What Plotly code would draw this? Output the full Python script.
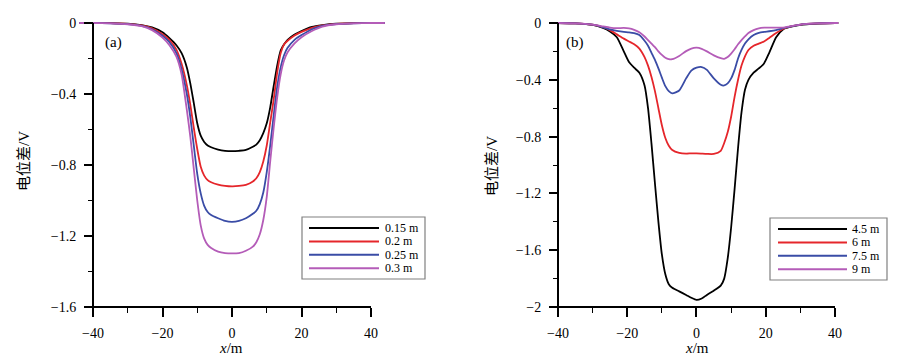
import plotly.graph_objects as go

# ---------------- data ----------------
x_a = [-44, -40, -35, -30, -26, -23, -20, -18, -16, -14.5,
       -13, -12, -11, -10, -9, -8, -7, -6, -4, -2,
       0, 2, 4, 6, 7, 8, 9, 10, 11, 12,
       13, 14, 15, 16, 18, 20, 23, 26, 30, 35,
       40, 44]
a_015 = [0, 0, -0.001, -0.004, -0.012, -0.025, -0.052, -0.085, -0.125, -0.17,
         -0.25, -0.34, -0.45, -0.565, -0.635, -0.67, -0.69, -0.70, -0.713, -0.72,
         -0.722, -0.72, -0.715, -0.697, -0.685, -0.66, -0.62, -0.565, -0.475, -0.355,
         -0.24, -0.155, -0.12, -0.095, -0.065, -0.045, -0.022, -0.012, -0.004, -0.001,
         0, 0]
a_020 = [0, 0, -0.001, -0.005, -0.014, -0.03, -0.063, -0.095, -0.15, -0.23,
         -0.35, -0.46, -0.59, -0.71, -0.81, -0.86, -0.885, -0.897, -0.91, -0.917,
         -0.92, -0.918, -0.912, -0.893, -0.875, -0.84, -0.78, -0.69, -0.56, -0.43,
         -0.28, -0.17, -0.12, -0.1, -0.07, -0.05, -0.027, -0.014, -0.005, -0.001,
         0, 0]
a_025 = [0, 0, -0.002, -0.006, -0.016, -0.035, -0.072, -0.108, -0.17, -0.26,
         -0.4, -0.53, -0.69, -0.85, -0.96, -1.03, -1.065, -1.082, -1.1, -1.115,
         -1.12, -1.115, -1.1, -1.075, -1.058, -1.02, -0.955, -0.84, -0.69, -0.52,
         -0.36, -0.25, -0.18, -0.14, -0.095, -0.068, -0.035, -0.016, -0.006, -0.002,
         0, 0]
a_030 = [0, 0, -0.002, -0.007, -0.018, -0.04, -0.082, -0.125, -0.19, -0.29,
         -0.49, -0.64, -0.82, -1.0, -1.14, -1.215, -1.25, -1.268, -1.288, -1.296,
         -1.298, -1.296, -1.283, -1.26, -1.235, -1.19, -1.11, -0.98, -0.78, -0.59,
         -0.42, -0.29, -0.21, -0.165, -0.115, -0.08, -0.045, -0.02, -0.007, -0.002,
         0, 0]
names_a = ["0.15 m", "0.2 m", "0.25 m", "0.3 m"]

x_b = [-40, -35, -30, -27, -25, -23, -21, -19.5, -18, -16.5,
       -15, -14, -13, -12, -11, -10, -9, -8, -7, -5,
       -3, -1.5, 0, 1.5, 3, 5, 7, 8, 9, 10,
       11, 12, 13, 14, 15, 16.5, 18, 19.5, 21, 23,
       25, 27, 30, 35, 40, 41]
b_45 = [0, -0.003, -0.014, -0.035, -0.06, -0.1, -0.2, -0.275, -0.315, -0.35,
        -0.44, -0.6, -0.85, -1.13, -1.4, -1.63, -1.77, -1.84, -1.865, -1.89,
        -1.915, -1.935, -1.95, -1.94, -1.915, -1.885, -1.85, -1.8, -1.66, -1.44,
        -1.17, -0.88, -0.63, -0.47, -0.4, -0.35, -0.32, -0.285, -0.21, -0.1,
        -0.045, -0.028, -0.013, -0.004, 0, 0]
b_6 = [0, -0.003, -0.012, -0.03, -0.05, -0.08, -0.11, -0.13, -0.15, -0.18,
       -0.24, -0.3, -0.38, -0.48, -0.6, -0.72, -0.81, -0.865, -0.895, -0.915,
       -0.92, -0.918, -0.918, -0.92, -0.922, -0.922, -0.9, -0.845, -0.77, -0.66,
       -0.52, -0.4, -0.3, -0.235, -0.19, -0.16, -0.145, -0.13, -0.105, -0.07,
       -0.042, -0.025, -0.011, -0.003, 0, 0]
b_75 = [0, -0.003, -0.012, -0.03, -0.045, -0.056, -0.063, -0.066, -0.072, -0.085,
        -0.125, -0.16, -0.21, -0.26, -0.32, -0.385, -0.445, -0.48, -0.495, -0.475,
        -0.39, -0.335, -0.315, -0.31, -0.33, -0.39, -0.435, -0.44, -0.425, -0.39,
        -0.33, -0.25, -0.19, -0.145, -0.115, -0.085, -0.07, -0.063, -0.058, -0.05,
        -0.037, -0.025, -0.011, -0.003, 0, 0]
b_9 = [0, -0.003, -0.012, -0.024, -0.032, -0.036, -0.035, -0.038, -0.048, -0.065,
       -0.095, -0.12, -0.145, -0.17, -0.2, -0.225, -0.245, -0.255, -0.255, -0.232,
       -0.198, -0.18, -0.174, -0.182, -0.2, -0.228, -0.248, -0.252, -0.24, -0.215,
       -0.185, -0.15, -0.12, -0.095, -0.07, -0.05, -0.038, -0.033, -0.032, -0.033,
       -0.032, -0.024, -0.011, -0.003, 0, 0]
names_b = ["4.5 m", "6 m", "7.5 m", "9 m"]

x_ticks = [-40, -20, 0, 20, 40]
x_minor = [-30, -10, 10, 30]
y_ticks_a = [0, -0.4, -0.8, -1.2, -1.6]
y_minor_a = [-0.2, -0.6, -1.0, -1.4]
y_ticks_b = [0, -0.4, -0.8, -1.2, -1.6, -2]
y_minor_b = [-0.2, -0.6, -1.0, -1.4, -1.8]
y_labels_a = ["0", "\u22120.4", "\u22120.8", "\u22121.2", "\u22121.6"]
y_labels_b = ["0", "\u22120.4", "\u22120.8", "\u22121.2", "\u22121.6", "\u22122"]
x_labels = ["\u221240", "\u221220", "0", "20", "40"]

colors = ["#000000", "#e5262b", "#3a4ca6", "#b45cb8"]

# ---------------- layout helpers ----------------
W, H = 924, 362
SERIF = "Liberation Serif, Times New Roman, serif"
CJK = "Liberation Serif, Noto Sans CJK SC, serif"


def fx(px):
    return px / W


def fy(py):
    return 1 - py / H


xr_a = [-44, 44]
xr_b = [-41, 41]
yr_a = [-1.6, 0.02]
yr_b = [-2.0, 0.025]
# pixel extents of the axes (x=-40..40, y from 0 to min)
ax_a = dict(x0=93, x1=371)
ax_b = dict(x0=558, x1=835)
y_top, y_bot = 23, 307


def domain_x(ax, xr):
    ppu = (ax["x1"] - ax["x0"]) / 80.0
    left = ax["x0"] - (-40 - xr[0]) * ppu
    right = ax["x1"] + (xr[1] - 40) * ppu
    return [fx(left), fx(right)]


def domain_y(yr):
    ppu = (y_bot - y_top) / (0 - yr[0])
    top = y_top - yr[1] * ppu
    return [fy(y_bot), fy(top)]


fig = go.Figure()
for ys, nm, c in zip([a_015, a_020, a_025, a_030], names_a, colors):
    fig.add_trace(go.Scatter(x=x_a, y=ys, name=nm, mode="lines",
                             line=dict(color=c, width=1.8, shape="spline", smoothing=0.6),
                             xaxis="x", yaxis="y", showlegend=False))
for ys, nm, c in zip([b_45, b_6, b_75, b_9], names_b, colors):
    fig.add_trace(go.Scatter(x=x_b, y=ys, name=nm, mode="lines",
                             line=dict(color=c, width=1.8, shape="spline", smoothing=0.6),
                             xaxis="x2", yaxis="y2", showlegend=False))

tickfont = dict(family=SERIF, size=14, color="black")

common_x = dict(showgrid=False, zeroline=False, showline=False, ticks="outside",
                ticklen=9, tickwidth=1.6, tickcolor="black", tickfont=tickfont,
                tickmode="array", tickvals=x_ticks, ticktext=x_labels,
                ticklabelstandoff=4, automargin=False,
                minor=dict(ticks="outside", ticklen=5, tickwidth=1.4, tickcolor="black",
                           tickmode="array", tickvals=x_minor, showgrid=False))
common_y = dict(showgrid=False, zeroline=False, showline=False, ticks="outside",
                ticklen=9, tickwidth=1.6, tickcolor="black", tickfont=tickfont,
                tickmode="array", anchor="free", ticklabelstandoff=5, automargin=False)

fig.update_layout(
    template="none",
    width=W, height=H, margin=dict(l=0, r=0, t=0, b=0, autoexpand=False),
    paper_bgcolor="white", plot_bgcolor="white",
    font=dict(family=SERIF, color="black"),
    xaxis=dict(domain=domain_x(ax_a, xr_a), range=xr_a, anchor="y", **common_x),
    xaxis2=dict(domain=domain_x(ax_b, xr_b), range=xr_b, anchor="y2", **common_x),
    yaxis=dict(domain=domain_y(yr_a), range=yr_a, position=fx(ax_a["x0"]),
               tickvals=y_ticks_a, ticktext=y_labels_a,
               minor=dict(ticks="outside", ticklen=5, tickwidth=1.4, tickcolor="black",
                          tickmode="array", tickvals=y_minor_a, showgrid=False),
               **common_y),
    yaxis2=dict(domain=domain_y(yr_b), range=yr_b, position=fx(ax_b["x0"]),
                tickvals=y_ticks_b, ticktext=y_labels_b,
                minor=dict(ticks="outside", ticklen=5, tickwidth=1.4, tickcolor="black",
                           tickmode="array", tickvals=y_minor_b, showgrid=False),
                **common_y),
)

shapes = []
annotations = []


def frac(v, r):
    return (v - r[0]) / (r[1] - r[0])


for xa, ya, xr, yr in [("x", "y", xr_a, yr_a), ("x2", "y2", xr_b, yr_b)]:
    shapes.append(dict(type="line", xref=xa + " domain", yref=ya + " domain",
                       x0=frac(-40, xr), x1=frac(40, xr), y0=0, y1=0,
                       line=dict(color="black", width=2)))
    shapes.append(dict(type="line", xref=xa + " domain", yref=ya + " domain",
                       x0=frac(-40, xr), x1=frac(-40, xr), y0=0, y1=frac(0, yr),
                       line=dict(color="black", width=2)))

# axis titles
for cx, cy in [(231, 348), (697, 348)]:
    annotations.append(dict(text="<i>x</i>/m", x=fx(cx), y=fy(cy), xref="paper", yref="paper",
                            showarrow=False, xanchor="center", yanchor="middle",
                            font=dict(family=SERIF, size=15, color="black")))
for cx, cy in [(24, 161), (492, 166)]:
    annotations.append(dict(text="电位差/V", x=fx(cx), y=fy(cy), xref="paper", yref="paper",
                            showarrow=False, xanchor="center", yanchor="middle", textangle=-90,
                            font=dict(family=CJK, size=15, color="black")))
# panel labels
for txt, cx, cy in [("(a)", 113, 43), ("(b)", 575, 42)]:
    annotations.append(dict(text=txt, x=fx(cx), y=fy(cy), xref="paper", yref="paper",
                            showarrow=False, xanchor="center", yanchor="middle",
                            font=dict(family=SERIF, size=15, color="black")))

# custom legends (boxes with long line samples)
legends = [
    dict(box=(302, 217, 425, 279), lx=(309, 379), tx=384, top=228, names=names_a),
    dict(box=(770, 218, 887, 280), lx=(778, 847), tx=851, top=229, names=names_b),
]
ROW = 13.4
for lg in legends:
    x0, y0, x1, y1 = lg["box"]
    shapes.append(dict(type="rect", xref="paper", yref="paper",
                       x0=fx(x0), x1=fx(x1), y0=fy(y1), y1=fy(y0),
                       line=dict(color="#808080", width=1.2), fillcolor="white"))
    for i, (nm, c) in enumerate(zip(lg["names"], colors)):
        ry = lg["top"] + i * ROW
        shapes.append(dict(type="line", xref="paper", yref="paper",
                           x0=fx(lg["lx"][0]), x1=fx(lg["lx"][1]), y0=fy(ry), y1=fy(ry),
                           line=dict(color=c, width=2)))
        annotations.append(dict(text=nm, x=fx(lg["tx"]), y=fy(ry), xref="paper", yref="paper",
                                showarrow=False, xanchor="left", yanchor="middle",
                                borderpad=0,
                                font=dict(family=SERIF, size=12, color="black")))

fig.update_layout(shapes=shapes, annotations=annotations)
fig.write_html("out.html", config={"displayModeBar": False},
               post_script="document.body.style.margin='0';document.body.style.padding='0';")
